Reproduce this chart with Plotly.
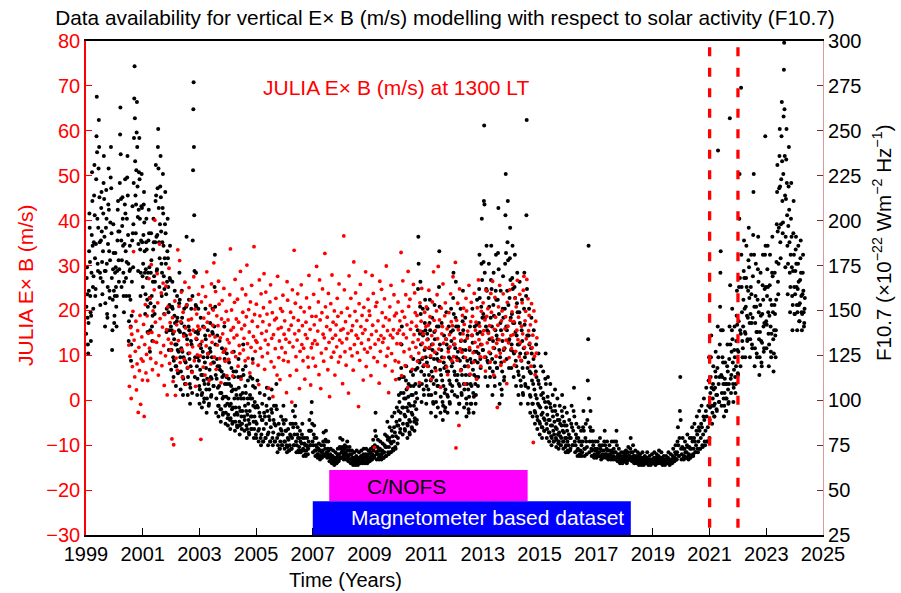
import plotly.graph_objects as go

# ---------------- F10.7 samples (8 per month in active years, 6 in quiet years) ----------------
f107_1999 = [137,152,168,174,159,146,131,126, 143,161,183,204,196,177,158,149, 133,147,171,192,227,211,186,163,
             151,169,188,214,231,203,179,158, 162,187,223,247,269,238,201,176, 172,196,229,256,241,213,188,171,
             153,168,189,207,216,194,177,159, 166,183,204,221,236,212,191,172, 141,154,172,196,217,201,176,148,
             146,163,187,209,229,206,183,161, 157,178,199,224,241,218,193,168, 128,139,156,173,198,182,161,143]
f107_2000 = [147,158,171,182,174,163,152,141, 158,172,189,206,211,194,178,166, 173,194,221,248,263,237,212,189,
             163,178,197,213,201,186,171,158, 149,166,187,209,223,204,183,168, 158,177,201,224,236,214,192,176,
             133,144,158,172,186,173,156,141, 122,131,147,166,189,208,193,174, 198,221,246,268,286,257,233,214,
             193,209,228,249,266,241,219,202, 172,187,206,227,246,223,201,184, 158,171,189,208,226,207,188,169]
f107_2001 = [163,176,192,209,216,199,183,171, 148,159,173,188,201,184,168,156, 138,152,171,189,206,193,174,157,
             127,139,154,171,193,178,158,141, 133,147,166,184,201,188,169,152, 148,166,188,211,231,214,191,172,
             173,192,218,241,251,229,207,188, 163,179,198,219,236,213,194,176, 158,171,188,207,226,204,186,169,
             148,162,179,198,216,193,176,159, 138,151,166,183,201,179,163,149, 128,139,153,168,186,167,152,141]
f107_2002 = [117,128,139,152,166,151,137,124, 113,122,134,147,161,143,131,119, 108,119,131,144,158,146,128,115,
             116,127,139,154,171,156,138,124, 106,116,129,143,161,146,127,113, 103,112,124,137,151,141,122,109,
             109,121,136,152,191,153,134,118, 103,113,126,141,156,139,123,109, 98,107,119,133,151,131,116,104,
             158,189,228,262,277,241,203,172, 113,124,138,153,171,152,134,119, 103,112,124,137,151,139,122,108]
f107_2003 = [98,106,117,131,146,129,114,103, 96,104,114,127,141,124,111,99, 101,109,121,136,151,134,118,106,
             93,101,112,124,139,126,109,97, 98,106,117,129,143,127,113,102, 103,112,124,138,151,137,121,108,
             108,121,141,163,181,152,131,114, 93,101,112,123,136,119,107,97, 91,97,108,119,133,117,104,95,
             88,95,104,116,129,113,101,92, 93,102,114,127,141,123,109,97, 87,93,102,113,126,109,98,90]
f107_2004 = [86,92,101,112,121,109,97,89, 84,90,98,108,118,105,95,87, 88,96,106,116,127,113,101,92,
             83,88,96,106,116,103,93,86, 85,92,101,113,123,107,96,88, 81,86,94,103,113,101,91,84,
             87,94,104,117,131,114,101,91, 83,89,97,108,119,104,94,86, 79,84,92,101,111,98,89,82,
             81,87,94,103,113,101,91,84, 84,91,101,112,123,108,97,88, 79,84,91,99,107,96,88,81]
f107_2005 = [79,87,97,111,96,83, 77,84,93,104,91,79, 75,81,89,98,89,77, 77,84,93,103,91,79,
             79,87,97,107,94,81, 75,82,91,101,89,77, 77,85,95,106,93,79, 75,82,89,97,87,77,
             77,86,97,109,95,79, 71,75,81,87,81,73, 73,77,84,91,83,75, 75,81,89,97,87,77]
f107_2006 = [73,77,83,89,83,75, 71,74,79,84,78,72, 72,75,81,87,80,73, 73,79,87,94,85,75,
             75,81,91,97,87,77, 71,75,81,85,79,72, 71,74,79,83,77,71, 72,76,81,87,79,73,
             69,72,76,79,75,70, 69,72,75,79,74,70, 73,77,83,89,83,75, 75,83,93,99,87,77]
f107_2007 = [71,75,81,86,79,72, 69,72,75,79,74,70, 68,70,73,76,72,69, 67,69,72,75,71,68,
             69,72,77,82,75,70, 69,73,78,83,77,71, 68,70,73,77,72,69, 66,68,70,73,69,67,
             65,67,69,72,68,66, 64,66,68,71,67,65, 65,68,70,73,69,66, 67,70,74,79,73,68]
f107_2008 = [68,71,74,78,72,69, 67,70,73,75,71,68, 67,70,74,77,72,68, 66,69,72,74,70,67,
             65,67,70,72,68,66, 64,66,68,71,67,65, 64,66,69,72,67,65, 64,66,68,71,67,65,
             65,67,69,72,68,66, 65,67,70,73,68,66, 65,68,70,73,69,66, 65,67,70,72,68,66]
f107_2009 = [66,68,71,73,69,67, 67,70,74,78,72,68, 69,75,83,93,80,71, 67,70,74,78,72,68,
             67,70,73,77,72,68, 67,70,72,76,71,68, 68,71,75,81,74,69, 69,74,80,88,78,71,
             70,74,79,85,77,71, 71,76,83,91,80,73, 72,77,85,93,82,74, 73,80,88,96,86,76]
f107_2010 = [79,86,94,103,112,99,89,82, 84,93,104,118,131,141,113,96, 81,87,96,104,113,101,92,84,
             83,91,101,111,119,106,96,87, 79,86,94,102,109,98,89,82, 81,88,97,108,116,103,93,85,
             84,92,103,114,123,108,97,88, 83,90,99,109,117,104,95,87, 89,101,118,139,162,191,176,122,
             108,121,137,152,166,148,131,116, 99,109,123,138,151,136,119,106, 103,114,128,143,156,139,124,111]
f107_2011 = [98,108,121,137,151,134,119,106, 103,114,129,143,156,139,124,111, 93,103,116,131,146,128,113,99,
             98,109,123,138,153,134,118,104, 91,99,111,126,141,123,108,96, 108,122,141,163,183,152,131,117,
             93,102,114,128,143,124,111,99, 89,97,108,121,136,118,104,94, 96,106,119,134,149,131,116,103,
             93,102,116,129,141,124,111,99, 98,109,123,138,151,133,119,105, 108,121,139,157,171,148,131,116]
f107_2012 = [103,114,129,146,166,141,124,111, 93,102,114,127,141,123,109,98, 98,108,122,137,151,133,117,104,
             103,114,128,144,161,139,124,109, 96,106,119,133,146,128,114,101, 91,98,109,122,136,119,106,95,
             93,102,114,128,141,123,109,98, 98,108,121,136,151,132,117,104, 93,102,114,127,141,122,109,98,
             103,113,127,142,156,137,121,108, 113,126,143,162,181,157,138,123, 118,131,152,176,201,167,146,128]
f107_2013 = [128,148,177,211,253,209,171,146, 113,124,141,162,186,161,139,122, 108,121,138,157,176,152,134,118,
             113,126,146,167,186,162,141,123, 103,116,133,153,171,147,129,113, 108,121,139,161,181,156,136,118,
             118,134,156,182,207,173,148,128, 98,109,124,143,161,139,121,106, 103,116,133,151,169,146,128,111,
             113,129,151,176,203,226,182,141, 123,139,161,188,211,178,153,133, 118,134,157,179,196,167,146,128]
f107_2014 = [118,131,148,168,186,162,143,127, 113,126,143,163,181,157,138,122, 108,119,136,154,171,149,131,116,
             103,114,131,149,166,143,126,111, 98,108,122,139,156,133,118,104, 103,113,129,151,171,142,124,109,
             108,126,158,203,256,162,136,118, 98,107,121,136,151,131,116,103, 93,102,115,129,146,126,111,98,
             91,98,109,123,139,119,106,94, 87,93,103,116,131,113,101,91, 84,89,98,111,126,109,97,88]
f107_2015 = [81,87,96,107,119,103,92,85, 79,85,93,104,116,101,90,83, 83,89,99,112,126,109,96,87,
             79,84,92,102,113,99,89,82, 77,82,89,98,109,96,86,80, 75,79,86,94,103,91,83,77,
             77,81,88,97,106,94,85,79, 74,78,84,92,101,89,81,76, 73,77,82,89,97,87,80,75,
             75,79,86,94,103,91,83,77, 73,77,82,88,96,86,79,74, 71,75,79,86,93,83,77,72]
f107_2016 = [71,75,81,89,79,72, 73,79,87,97,85,75, 75,83,94,107,91,77, 71,75,81,87,79,72,
             69,73,79,85,77,70, 69,72,77,83,75,69, 71,77,85,94,83,73, 69,73,79,87,77,70,
             74,89,111,134,186,101, 71,77,85,94,83,73, 69,72,77,83,75,69, 68,70,73,77,72,69]
f107_2017 = [68,70,73,77,71,69, 69,71,75,79,73,69, 67,69,72,75,70,68, 69,72,77,83,75,70,
             68,70,73,77,72,69, 67,69,72,75,70,68, 67,69,72,77,71,68, 67,69,73,77,71,68,
             67,71,77,83,75,69, 66,68,70,73,69,67, 65,67,69,71,68,66, 65,67,69,71,68,66]
f107_2018 = [66,67,70,72,68,65, 66,68,71,74,69,67, 67,69,73,79,71,68, 66,68,71,75,69,67,
             65,67,69,72,68,66, 65,67,69,71,68,65, 64,66,68,70,67,65, 64,66,68,71,67,65,
             64,66,67,69,67,65, 65,66,68,71,67,65, 64,66,67,69,66,65, 64,66,67,70,66,65]
f107_2019 = [65,66,68,71,67,65, 64,66,68,70,67,65, 65,67,69,72,68,66, 65,66,68,71,67,65,
             64,66,67,69,67,65, 64,66,67,69,66,65, 65,66,68,71,67,65, 64,66,67,70,66,65,
             65,67,69,73,68,66, 66,68,71,75,70,67, 67,71,77,85,75,69, 69,79,94,113,89,73]
f107_2020 = [67,70,74,79,73,68, 67,69,73,77,71,68, 68,71,75,81,74,69, 67,70,74,79,73,68,
             69,73,79,85,77,70, 69,73,79,87,77,71, 71,75,83,91,81,73, 71,77,85,94,83,73,
             73,79,87,97,85,75, 74,81,91,101,89,77, 75,83,94,107,91,77, 77,85,97,111,124,79]
f107_2021 = [89,96,104,113,124,136,107,97, 87,93,101,109,119,106,97,91, 91,98,107,116,127,113,103,95,
             94,103,118,141,239,124,109,99, 99,113,131,152,171,183,139,114, 97,104,113,124,139,121,109,101,
             91,97,104,112,121,109,101,94, 94,101,109,119,131,116,106,98, 99,109,123,141,257,164,131,112,
             104,114,127,139,151,134,121,109, 99,107,117,128,141,124,113,104, 109,119,133,147,161,142,128,115]
f107_2022 = [114,127,144,163,201,226,168,139, 119,137,274,181,163,149,133,124, 129,141,156,172,189,168,151,138,
             124,137,152,168,186,163,147,133, 134,146,161,178,196,174,157,143, 124,134,148,163,181,159,143,131,
             129,146,169,192,216,226,181,152, 119,129,143,158,176,152,138,126, 124,138,156,173,191,166,149,134,
             114,124,138,153,171,147,133,121, 119,132,148,164,181,156,141,127, 129,143,162,181,247,186,163,144]
f107_2023 = [129,142,158,173,186,163,149,137, 119,131,147,164,181,156,141,127, 124,137,153,171,191,169,149,134,
             116,126,139,153,171,148,136,124, 139,156,177,198,216,231,194,166, 159,176,196,218,236,251,219,188,
             179,198,223,247,266,233,211,193, 199,226,258,284,299,262,236,214, 174,191,212,234,251,221,203,186,
             159,176,197,219,241,206,188,171, 149,163,181,201,221,191,174,158, 139,153,172,193,211,181,163,148]
f107_2024 = [148,159,172,184,191,176,163,153, 139,149,162,176,186,166,153,144, 144,154,167,179,189,171,158,149,
             139,148,159,171,181,161,149,141, 143,151,157]

f107_years = list(range(1999, 2025))
f107_per_month = [8, 8, 8, 8, 8, 8, 6, 6, 6, 6, 6, 8, 8, 8, 8, 8, 8, 6, 6, 6, 6, 6, 8, 8, 8, 8]
f107_lists = [f107_1999, f107_2000, f107_2001, f107_2002, f107_2003, f107_2004, f107_2005, f107_2006,
              f107_2007, f107_2008, f107_2009, f107_2010, f107_2011, f107_2012, f107_2013, f107_2014,
              f107_2015, f107_2016, f107_2017, f107_2018, f107_2019, f107_2020, f107_2021, f107_2022,
              f107_2023, f107_2024]

# ---------------- JULIA vertical ExB at 1300 LT (4 per month) ----------------
exb_2000 = [12.3,3.1,9.8,16.2, 0.4,14.7,7.5,19.8, 33.1,13.4,5.2,10.9, 17.6,2.3,8.1,15.5, -2.7,11.8,6.6,18.9, -0.9,9.2,14.1,4.5]
exb_2001 = [8.7,16.9,-3.6,12.4, 21.3,6.1,10.2,18.8, 4.4,14.9,27.1,11.6, 22.7,9.3,30.2,15.1, 6.8,19.9,13.1,24.6, 40.1,17.4,8.3,12.9,
            28.2,21.7,5.6,14.4, 34.8,18.2,10.6,23.9, 7.7,16.3,26.1,12.2, 3.3,19.1,9.9,25.4, 15.7,1.2,20.8,13.6, 29.4,8.2,17.3,11.1]
exb_2002 = [12.7,-8.6,18.4,4.2, -9.9,15.3,22.1,1.1, 9.4,16.8,6.7,33.5, 13.3,20.9,31.1,8.4, 17.5,24.1,11.2,5.1, 19.6,14.3,9.1,26.3,
            16.1,3.6,21.2,12.4, 7.3,17.9,25.1,10.5, 14.7,22.4,18.1,6.2, 11.9,15.6,27.5,8.8, 20.3,3.1,13.8,19.2, 10.1,16.5,23.6,12.2]
exb_2003 = [15.8,9.9,-8.7,21.9, 13.1,25.3,7.4,18.3, 16.2,5.6,23.1,12.1, 28.6,17.4,10.3,19.4, 4.4,14.4,21.1,8.1, 25.9,12.9,16.7,20.1,
            30.6,9.6,14.1,24.2, 6.9,18.8,12.3,16.6, 26.5,21.4,9.3,13.9, 3.9,18.1,22.2,14.8, 10.7,24.9,17.3,8.7, 11.4,19.8,5.5,13.5]
exb_2004 = [17.9,9.1,12.8,23.5, 33.7,15.6,20.1,10.7, 5.4,16.2,13.9,21.8, 26.9,9.7,18.1,14.5, 22.5,7.6,17.4,12.2, 10.4,28.7,4.7,15.9,
            24.8,19.6,11.2,13.8, 16.7,8.8,23.5,18.6, 30.1,12.6,9.4,20.2, 15.2,6.1,21.9,11.8, 25.6,17.6,8.3,14.2, 34.2,19.1,10.9,13.3]
exb_2005 = [21.4,12.9,16.4,7.8, 3.5,26.8,18.8,11.6, 23.7,14.9,9.7,17.5, 20.6,28.2,6.9,13.4, 24.1,15.4,19.2,10.5, 12.4,2.7,16.8,21.9,
            25.7,8.6,13.8,19.5, 0.8,14.6,7.4,17.9, 11.5,22.7,18.3,5.6, 27.6,15.9,9.5,13.2, 4.6,20.4,16.2,11.7, 19.8,23.4,8.9,14.7]
exb_2006 = [17.7,10.6,13.6,1.7, 26.4,22.3,8.6,15.7, 12.9,5.5,19.6,16.7, -0.4,24.6,11.9,18.4, 33.4,14.8,21.6,9.7, 6.7,13.4,23.7,17.8,
            15.5,2.6,10.9,20.7, 25.7,12.4,16.6,8.8, 11.6,19.7,4.7,14.6, 17.4,22.8,13.8,9.6, 7.4,27.8,20.6,15.8, 3.4,11.7,18.7,12.6]
exb_2007 = [9.4,23.6,16.8,13.3, 7.6,18.7,29.8,12.5, 15.4,21.9,5.7,26.8, 17.9,2.6,10.5,19.5, 24.8,14.7,8.7,13.9, 32.7,20.8,11.5,16.4,
            18.5,6.8,23.8,12.9, 0.8,15.7,21.5,9.6, 27.9,13.8,17.4,10.7, 19.9,5.6,14.5,16.8, 11.9,22.7,18.7,8.5, 25.9,13.4,9.7,15.6]
exb_2008 = [19.5,12.8,3.7,15.9, 36.6,24.6,10.8,17.5, 7.8,13.7,20.5,14.9, 1.6,27.7,18.8,11.5, 22.7,15.5,9.9,16.6, 6.7,30.8,12.4,19.8,
            23.9,14.5,17.7,10.6, 13.8,-1.4,21.5,8.9, 25.8,16.4,12.7,18.9, 14.9,4.5,20.7,11.4, 15.7,28.6,7.5,17.8, 10.7,22.5,13.5,19.9]
exb_2009 = [18.9,11.7,5.5,14.6, 27.8,16.7,23.8,9.5, -10.5,12.5,20.9,15.4, 21.8,8.6,17.7,13.5, 3.8,26.5,10.9,14.4, 24.7,19.5,12.9,16.5,
            13.8,22.6,7.7,18.4, 29.9,9.8,15.5,11.6, 1.7,17.9,20.8,14.5, 25.6,10.4,6.5,13.9, 15.7,23.5,18.8,8.8, 4.6,19.4,12.6,14.9]
exb_2010 = [21.9,8.5,15.6,17.7, 12.6,32.9,5.5,19.8, 26.6,14.7,10.8,18.5, 7.7,23.5,13.9,16.8, 2.8,28.7,20.9,11.4, 22.5,15.8,9.7,17.4,
            6.9,12.9,25.8,14.6, 23.9,19.5,11.8,16.5, 18.9,8.7,13.5,10.5, 3.9,21.7,15.4,17.6, 24.9,12.7,9.5,14.8, 7.9,19.6,11.7,16.4]
exb_2011 = [20.8,13.5,7.6,16.7, 24.5,11.8,18.6,9.9, 4.7,14.4,21.9,12.5, 28.6,17.8,10.7,15.5, 6.6,19.9,23.5,13.7, 29.8,11.4,17.9,8.7,
            2.9,20.5,14.8,16.4, 25.9,12.7,9.5,18.8, 21.7,13.6,7.4,15.9, 5.7,10.8,19.5,14.6, 11.9,23.7,17.5,8.8, 16.6,27.5,9.7,13.8]
exb_2012 = [12.5,30.7,-10.6,17.8, 8.9,21.6,15.7,-5.6, 24.8,11.5,6.6,13.4, 10.7,18.9,14.8,20.5, 16.9,3.6,9.5,22.7, 19.9,13.8,15.4,7.5,
            25.6,11.7,5.8,17.5, 21.8,14.5,18.7,10.6, 8.5,23.8,12.9,15.6, 17.4,4.7,20.6,11.9, 26.8,13.5,16.5,9.7, 7.6,19.8,12.4,14.7]
exb_2013 = [21.7,15.5,9.6,17.9, 6.5,24.5,18.7,12.8, 20.4,14.9,10.7,16.6, 8.5,23.8,19.6,13.9, 26.5,11.7,5.6,15.8, 22.9,18.5,9.8,12.7,
            -1.6,16.7,20.8,13.5, 25.6,10.5,7.8,17.7, 19.9,14.6,23.7,11.5, 8.7,15.9,18.6,13.4, 3.7,21.8,16.5,12.8, 9.5,24.6,17.8,14.4]
exb_2014 = [11.5,19.7,25.8,14.6, 17.5,7.8,22.7,10.9, 20.8,15.6,26.7,13.5, 18.5,9.7,23.6,12.8, 8.9,16.5,21.7,14.8, 24.5,27.6,11.8,17.7,
            19.8,13.7,26.9,10.5, 22.6,15.5,18.9,12.7, 16.8,7.6,21.5,11.7, 14.5,-9.4,19.9,9.8, 5.7,17.6,10.5,13.9]

exb_years = list(range(2000, 2015))
exb_start_month = [6] + [0] * 14
exb_lists = [exb_2000, exb_2001, exb_2002, exb_2003, exb_2004, exb_2005, exb_2006, exb_2007,
             exb_2008, exb_2009, exb_2010, exb_2011, exb_2012, exb_2013, exb_2014]

# campaign / dataset periods (years) and markers
cnofs_period = [2007.58, 2014.58]
magneto_period = [2007.0, 2018.22]
event_years = [2021.0, 2022.0]

# ---------------- build time axis ----------------
bx, by = [], []
for yr, n, vals in zip(f107_years, f107_per_month, f107_lists):
    for i, v in enumerate(vals):
        bx.append(yr + (i + 0.5) / (12.0 * n))
        by.append(v)

rx, ry = [], []
for yr, m0, vals in zip(exb_years, exb_start_month, exb_lists):
    for i, v in enumerate(vals):
        rx.append(yr + (m0 * 4 + i + 0.5) / 48.0)
        ry.append(v)

FONT = "Liberation Sans, Arial, Helvetica, sans-serif"

fig = go.Figure()
fig.add_trace(go.Scatter(x=bx, y=by, mode="markers", yaxis="y",
                         marker=dict(color="black", size=4), showlegend=False))
fig.add_trace(go.Scatter(x=rx, y=ry, mode="markers", yaxis="y2",
                         marker=dict(color="#ff0000", size=3.8), showlegend=False))

# boxes
fig.add_shape(type="rect", xref="x", yref="y2", x0=cnofs_period[0], x1=cnofs_period[1],
              y0=-22.5, y1=-15.5, fillcolor="#ff00ff", line=dict(width=0), layer="above")
fig.add_shape(type="rect", xref="x", yref="y2", x0=magneto_period[0], x1=magneto_period[1],
              y0=-30, y1=-22.5, fillcolor="#0000ff", line=dict(width=0), layer="above")
for ev in event_years:
    fig.add_shape(type="line", xref="x", yref="y2", x0=ev, x1=ev, y0=78.6, y1=-30,
                  line=dict(color="#ff0000", width=3.3, dash="9px,11.5px"), layer="above")

fig.add_annotation(x=2010.29, y=-19.1, xref="x", yref="y2", text="C/NOFS", showarrow=False,
                   xanchor="center", yanchor="middle",
                   font=dict(family=FONT, size=21, color="black"))
fig.add_annotation(x=2013.18, y=-26.0, xref="x", yref="y2", text="Magnetometer based dataset",
                   showarrow=False, xanchor="center", yanchor="middle",
                   font=dict(family=FONT, size=21, color="white"))
fig.add_annotation(x=2009.92, y=69.7, xref="x", yref="y2", text="JULIA E\u00d7 B (m/s) at 1300 LT",
                   showarrow=False, xanchor="center", yanchor="middle",
                   font=dict(family=FONT, size=21, color="#ff0000"))

# axis titles
fig.add_annotation(x=(25 - 86) / 737.0, y=0.506, xref="paper", yref="paper", text="JULIA E\u00d7 B (m/s)",
                   textangle=-90, showarrow=False, xanchor="center", yanchor="middle",
                   font=dict(family=FONT, size=21, color="#ff0000"))
fig.add_annotation(x=(882 - 86) / 737.0, y=(535 - 243) / 494.0, xref="paper", yref="paper",
                   text="F10.7 (\u00d710<sup>\u221222</sup> Wm<sup>\u22122</sup> Hz<sup>\u22121</sup>)",
                   textangle=-90, showarrow=False, xanchor="center", yanchor="middle",
                   font=dict(family=FONT, size=20.5, color="black"))
fig.add_annotation(x=2008.15, y=-0.091, xref="x", yref="paper", text="Time (Years)",
                   showarrow=False, xanchor="center", yanchor="middle",
                   font=dict(family=FONT, size=20, color="black"))

fig.update_layout(
    width=901, height=593,
    margin=dict(l=86, r=78, t=41, b=58),
    paper_bgcolor="white", plot_bgcolor="white",
    font=dict(family=FONT, size=20, color="black"),
    title=dict(text="Data availability for vertical E\u00d7 B (m/s) modelling with respect to solar activity (F10.7)",
               x=445 / 901, xanchor="center", y=1 - 18 / 593, yanchor="middle", yref="container",
               font=dict(family=FONT, size=20.8, color="black")),
    xaxis=dict(range=[1999, 2025], tickvals=list(range(1999, 2026, 2)), ticks="inside", ticklen=7,
               tickcolor="black", showline=True, linecolor="black", linewidth=1.5, mirror=True,
               showgrid=False, zeroline=False, tickfont=dict(size=20, color="black")),
    yaxis=dict(range=[25, 300], tickvals=list(range(25, 301, 25)), side="right", ticks="inside",
               ticklen=6, tickcolor="#7a2a2a", showline=True, linecolor="#d99a9a", linewidth=1.2,
               showgrid=False, zeroline=False, tickfont=dict(size=20, color="black")),
    yaxis2=dict(range=[-30, 80], tickvals=list(range(-30, 81, 10)), side="left", overlaying="y",
                ticks="inside", ticklen=6, tickcolor="#ff0000", showline=True, linecolor="#ff0000",
                linewidth=1.5, showgrid=False, zeroline=False,
                tickfont=dict(size=20, color="#ff0000")),
)

fig.write_html("out.html")
